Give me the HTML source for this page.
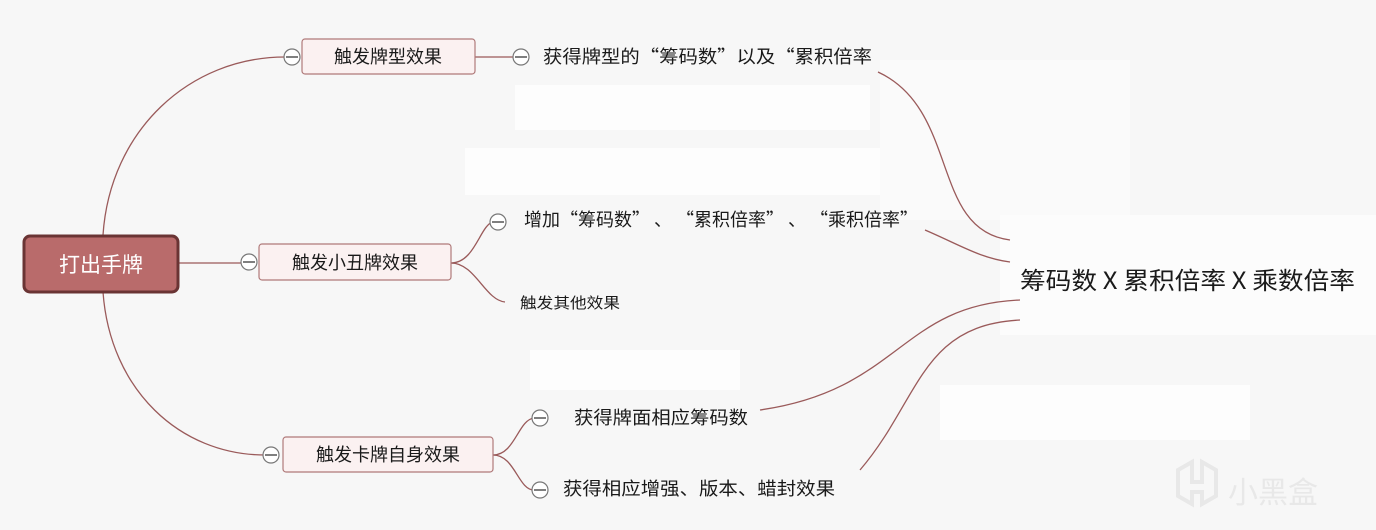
<!DOCTYPE html>
<html><head><meta charset="utf-8"><style>
html,body{margin:0;padding:0;width:1376px;height:530px;overflow:hidden;background:#f7f7f7}
svg text{font-family:"Noto Sans CJK SC","Liberation Sans",sans-serif;fill:#1a1a1a}
</style></head><body>
<svg width="1376" height="530" viewBox="0 0 1376 530" xmlns="http://www.w3.org/2000/svg">
<rect width="1376" height="530" fill="#f7f7f7"/>
<rect x="515" y="85" width="355" height="45" fill="#fdfdfd"/>
<rect x="465" y="148" width="420" height="47" fill="#fdfdfd"/>
<rect x="530" y="350" width="210" height="40" fill="#fdfdfd"/>
<rect x="940" y="385" width="310" height="55" fill="#fdfdfd"/>
<rect x="880" y="60" width="250" height="160" fill="#fafafa"/>
<rect x="1000" y="215" width="376" height="120" fill="#fcfcfc"/>
<g fill="none" stroke="#9a5a5a" stroke-width="1.3">
<path d="M103 235 C110 130 190 57 285 57"/>
<path d="M178 263 L243 263"/>
<path d="M103 292 C110 390 180 455 265 455"/>
<path d="M475 57 L515 57"/>
<path d="M451 263 C475 263 480 225 493 222"/>
<path d="M451 263 C475 263 485 300 505 302"/>
<path d="M493 455 C515 455 518 420 534 418"/>
<path d="M493 455 C515 455 518 490 534 490"/>
<path d="M878 72 C960 110 930 230 1010 240"/>
<path d="M925 230 C960 245 980 258 1010 262"/>
<path d="M760 410 C900 390 900 305 1020 300"/>
<path d="M860 470 C920 400 920 325 1020 320"/>
</g>
<rect x="24" y="236" width="154" height="56" rx="6" fill="#b96b6b" stroke="#6a3434" stroke-width="3"/>
<text x="101" y="272" font-size="21" text-anchor="middle" style="fill:#fff">打出手牌</text>
<g fill="#fbf1f1" stroke="#b07a7a" stroke-width="1.2">
<rect x="302" y="39" width="173" height="35" rx="3"/>
<rect x="259" y="244" width="192" height="36" rx="3"/>
<rect x="283" y="437" width="210" height="35" rx="3"/>
</g>
<text x="388" y="63" font-size="18" text-anchor="middle">触发牌型效果</text>
<text x="355" y="269" font-size="18" text-anchor="middle">触发小丑牌效果</text>
<text x="388" y="461" font-size="18" text-anchor="middle">触发卡牌自身效果</text>
<g fill="#fff" stroke="#777" stroke-width="1.2">
<circle cx="292" cy="57" r="8"/><circle cx="249" cy="262" r="8"/><circle cx="271" cy="455" r="8"/>
<circle cx="521" cy="57" r="8"/><circle cx="498" cy="222" r="8"/>
<circle cx="540" cy="418" r="8"/><circle cx="540" cy="490" r="8"/>
</g>
<g stroke="#555" stroke-width="1.4">
<path d="M286 57h12M243 262h12M265 455h12M515 57h12M492 222h12M534 418h12M534 490h12"/>
</g>
<text x="543" y="63" font-size="18" textLength="329" lengthAdjust="spacingAndGlyphs">获得牌型的“筹码数”以及“累积倍率</text>
<text x="524" y="226" font-size="18" textLength="394" lengthAdjust="spacingAndGlyphs">增加“筹码数” 、 “累积倍率” 、 “乘积倍率”</text>
<text x="520" y="308" font-size="15" textLength="100" lengthAdjust="spacingAndGlyphs">触发其他效果</text>
<text x="574" y="424" font-size="18" textLength="174" lengthAdjust="spacingAndGlyphs">获得牌面相应筹码数</text>
<text x="563" y="495" font-size="18" textLength="272" lengthAdjust="spacingAndGlyphs">获得相应增强、版本、蜡封效果</text>
<text x="1020" y="289" font-size="24" textLength="335" lengthAdjust="spacingAndGlyphs">筹码数 X 累积倍率 X 乘数倍率</text>
<text x="1228" y="503" font-size="30" style="fill:#e8e8e8">小黑盒</text>
<path d="M1178 470 l14 -8 v20 h10 v-20 l14 8 v26 l-14 8 v-12 h-10 v12 l-14 -8z" fill="none" stroke="#e8e8e8" stroke-width="4"/>
</svg>
</body></html>
